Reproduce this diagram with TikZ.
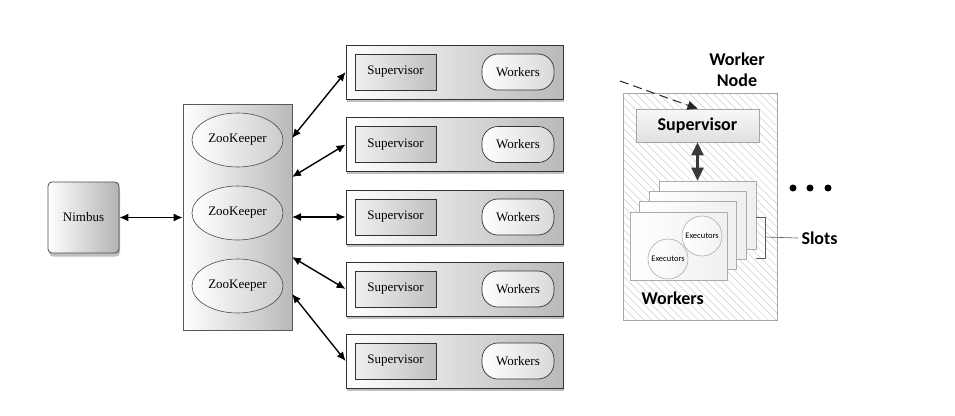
\documentclass[tikz,border=0pt]{standalone}
\usepackage{fontspec}
\setmainfont{Liberation Serif}
\newfontfamily\calibri{Carlito}
\usetikzlibrary{arrows.meta,shapes.geometric,shadows,patterns.meta}

\tikzset{
  serifsize/.style={font=\fontsize{13}{15}\selectfont},
  calbold/.style={font=\calibri\bfseries\fontsize{18}{21}\selectfont},
  nimbusbox/.style={draw=black!70, line width=0.8pt, rounded corners=4pt,
    left color=white, right color=gray!60, minimum width=71pt, minimum height=71pt,
    inner sep=0pt, drop shadow={opacity=0.5, shadow xshift=1pt, shadow yshift=-3.5pt}, serifsize},
  zkbox/.style={draw=black!65, line width=0.6pt, left color=white, right color=gray!55,
    minimum width=109pt, minimum height=226pt, inner sep=0pt},
  zkell/.style={ellipse, draw=black!70, line width=0.6pt, left color=white, right color=gray!40,
    minimum width=91pt, minimum height=54pt, inner sep=0pt, serifsize},
  rowbox/.style={draw=black!80, line width=0.8pt, left color=white, right color=gray!55,
    minimum width=217pt, minimum height=54pt, inner sep=0pt,
    drop shadow={opacity=0.5, shadow xshift=1pt, shadow yshift=-2.5pt}},
  supbox/.style={draw=black!80, line width=0.7pt, left color=gray!12, right color=gray!50,
    minimum width=81pt, minimum height=36pt, inner sep=0pt, serifsize},
  wrkbox/.style={draw=black!80, line width=0.7pt, rounded corners=16pt, left color=white,
    right color=gray!30, minimum width=72pt, minimum height=36pt, inner sep=0pt, serifsize},
  link/.style={{Latex[length=9pt,width=8pt]}-{Latex[length=9pt,width=8pt]}, line width=1.4pt},
  nodebox/.style={draw=gray!70, line width=0.6pt,
    pattern={Lines[angle=-45, distance=5.5pt, line width=0.5pt]}, pattern color=gray!40,
    minimum width=154pt, minimum height=227pt, inner sep=0pt},
  svbox/.style={draw=gray!70, line width=0.6pt, top color=gray!5, bottom color=gray!25,
    minimum width=123pt, minimum height=33pt, inner sep=0pt, calbold},
  cardbox/.style={draw=gray!65, line width=0.6pt, left color=white, right color=gray!12,
    minimum width=97pt, minimum height=68pt, inner sep=0pt},
  execcirc/.style={circle, draw=gray!65, line width=0.6pt, left color=white, right color=gray!10,
    minimum size=40pt, inner sep=0pt, font=\calibri\fontsize{8.5}{10}\selectfont},
  dot/.style={circle, fill=black, minimum size=7pt, inner sep=0pt},
}

\begin{document}
\begin{tikzpicture}[x=1pt, y=-1pt]
  \useasboundingbox (0,0) rectangle (955,415);

  % left: cluster
  \node[nimbusbox] (nimbus) at (83.5,217.5) {Nimbus};
  \node[zkbox] (zk) at (237.5,217) {};
  \node[zkell] (zk1) at (237.5,140) {ZooKeeper};
  \node[zkell] (zk2) at (237.5,213) {ZooKeeper};
  \node[zkell] (zk3) at (237.5,286) {ZooKeeper};

  \node[rowbox] (r1) at (454.5,72) {};
  \node[rowbox] (r2) at (454.5,144.5) {};
  \node[rowbox] (r3) at (454.5,217) {};
  \node[rowbox] (r4) at (454.5,289) {};
  \node[rowbox] (r5) at (454.5,361) {};
  \node[supbox] (s1) at (395.5,72) {Supervisor};
  \node[supbox] (s2) at (395.5,144.5) {Supervisor};
  \node[supbox] (s3) at (395.5,217) {Supervisor};
  \node[supbox] (s4) at (395.5,289) {Supervisor};
  \node[supbox] (s5) at (395.5,361) {Supervisor};
  \node[wrkbox] (w1) at (518,72) {Workers};
  \node[wrkbox] (w2) at (518,144.5) {Workers};
  \node[wrkbox] (w3) at (518,217) {Workers};
  \node[wrkbox] (w4) at (518,289) {Workers};
  \node[wrkbox] (w5) at (518,361) {Workers};

  \coordinate (p1) at (292,138);
  \coordinate (p2) at (292,177);
  \coordinate (p3) at (292,217);
  \coordinate (p4) at (292,257);
  \coordinate (p5) at (292,294);
  \draw[link] (nimbus.east) -- (nimbus.east -| zk.west);
  \draw[link] (p1) -- (r1.west);
  \draw[link] (p2) -- (r2.west);
  \draw[link] (p3) -- (r3.west);
  \draw[link] (p4) -- (r4.west);
  \draw[link] (p5) -- (r5.west);

  % right: one worker node
  \node[nodebox] (wn) at (700,206.5) {};
  \node[calbold, align=center] (wnlabel) at (737,70) {Worker\\Node};
  \node[svbox] (sv) at (697.5,125.5) {Supervisor};
  \coordinate (from) at (620,81);
  \draw[gray!30!black, line width=1pt, dash pattern=on 9pt off 5pt,
    -{Triangle[length=10pt,width=9pt]}] (from) -- (sv.north);

  \node[cardbox] (c4) at (707.5,215) {};
  \node[cardbox] (c3) at (697.5,225.5) {};
  \node[cardbox] (c2) at (687.5,235.5) {};
  \node[cardbox] (c1) at (678.5,246) {};
  \node[execcirc] (e1) at (702,236) {Executors};
  \node[execcirc] (e2) at (668,259) {Executors};
  \draw[gray!45!black, line width=2.5pt,
    {Triangle[length=13pt,width=12pt]}-{Triangle[length=13pt,width=12pt]}]
    (sv.south) -- (sv.south |- c4.north);

  \node[calbold, anchor=west] (wlabel) at (638,298) {Workers};
  \coordinate (bk) at (765,237);
  \draw[gray!70!black, line width=0.6pt] (756,217) -- (765,217) -- (765,258) -- (756,258);
  \node[calbold, anchor=west] (slots) at (798,238) {Slots};
  \draw[gray!70!black, line width=0.6pt] (bk) -- (slots.west);

  \node[dot] (d1) at (793,188) {};
  \node[dot] (d2) at (810,188) {};
  \node[dot] (d3) at (828,188) {};
\end{tikzpicture}
\end{document}
